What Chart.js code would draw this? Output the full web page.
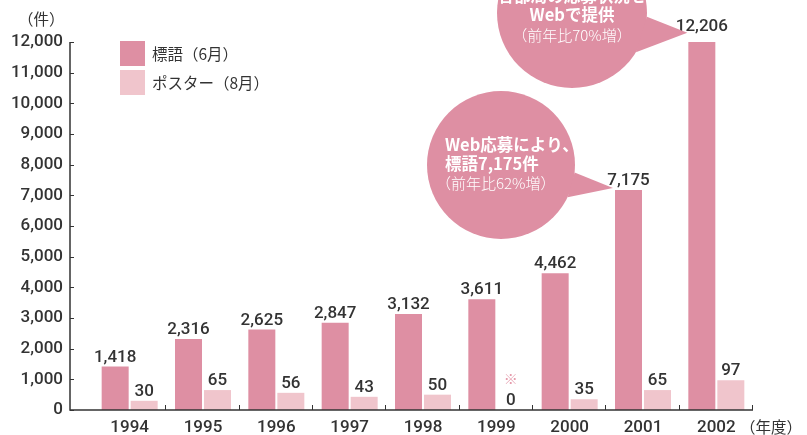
<!DOCTYPE html>
<html>
<head>
<meta charset="utf-8">
<script src="https://cdn.jsdelivr.net/npm/chart.js@4"></script>
<style>
  html, body { margin: 0; padding: 0; background: #fff; }
  #wrap { width: 807px; height: 435px; }
</style>
</head>
<body>
<div id="wrap"><canvas id="entries-chart" width="807" height="435"></canvas></div>
<script>
// Fiscal years
const years = ["1994", "1995", "1996", "1997", "1998", "1999", "2000", "2001", "2002"];

// Slogan entries (June)
const sloganValues = [1418, 2316, 2625, 2847, 3132, 3611, 4462, 7175, 12206];

// Poster entries (August) - drawn on their own 0..1200 scale
const posterValues = [30, 65, 56, 43, 50, 0, 35, 65, 97];
const posterNotes = ["", "", "", "", "", "※", "", "", ""];

// Y tick labels
const yTicks = [0, 1000, 2000, 3000, 4000, 5000, 6000, 7000, 8000, 9000, 10000, 11000, 12000];

const seriesLabels = ["標語（6月）", "ポスター（8月）"];
const DARK = "#de8fa3";
const LIGHT = "#f0c5cc";
const INK = "#333333";
const NUM_FONT = "500 17px Roboto";
const JP = "'Noto Sans CJK JP'";

// Axis lines, ticks, labels, legend and callouts
const decorPlugin = {
  id: "decor",
  afterDraw(chart) {
    const ctx = chart.ctx;
    const area = chart.chartArea;
    const y = chart.scales.y;
    const axisX = area.left - 23;
    const base = y.getPixelForValue(0);

    ctx.save();
    ctx.strokeStyle = INK;
    ctx.lineWidth = 1.5;
    ctx.beginPath();
    ctx.moveTo(axisX, y.getPixelForValue(12000));
    ctx.lineTo(axisX, base);
    ctx.lineTo(area.right, base);
    ctx.stroke();

    // y ticks
    ctx.lineWidth = 1;
    yTicks.forEach(function (v) {
      const py = Math.round(y.getPixelForValue(v)) + 0.5;
      ctx.beginPath();
      ctx.moveTo(axisX, py);
      ctx.lineTo(axisX + 4, py);
      ctx.stroke();
    });
    // x ticks at category boundaries (upward)
    const step = (area.right - area.left) / years.length;
    for (let i = 1; i <= years.length; i++) {
      const px = Math.round(area.left + step * i) - 0.5;
      ctx.beginPath();
      ctx.moveTo(px, base);
      ctx.lineTo(px, base - 5);
      ctx.stroke();
    }

    // unit labels
    ctx.fillStyle = INK;
    ctx.font = "15.5px " + JP;
    ctx.textBaseline = "middle";
    ctx.textAlign = "left";
    ctx.fillText("（件）", 18, 19);
    ctx.fillText("（年度）", area.right - 13, 427);

    // legend
    [DARK, LIGHT].forEach(function (c, i) {
      const ly = 41 + i * 29;
      ctx.fillStyle = c;
      ctx.fillRect(120, ly, 25, 25);
      ctx.fillStyle = INK;
      ctx.font = "15.5px " + JP;
      ctx.fillText(seriesLabels[i], 152, ly + 13);
    });

    // value labels
    ctx.textAlign = "center";
    ctx.textBaseline = "alphabetic";
    chart.data.datasets.forEach(function (ds, di) {
      const meta = chart.getDatasetMeta(di);
      meta.data.forEach(function (bar, i) {
        const v = di === 0 ? sloganValues[i] : posterValues[i];
        ctx.fillStyle = INK;
        ctx.font = NUM_FONT;
        ctx.fillText(v.toLocaleString("en-US"), bar.x, bar.y - 5);
        if (di === 1 && posterNotes[i]) {
          ctx.fillStyle = "#e59aab";
          ctx.font = "14px " + JP;
          ctx.fillText(posterNotes[i], bar.x, bar.y - 26);
        }
      });
    });

    // callouts
    const bars = chart.getDatasetMeta(0).data;
    function bubble(cx, cy, r, a1, a2, tx, ty) {
      ctx.fillStyle = DARK;
      ctx.beginPath();
      ctx.arc(cx, cy, r, 0, Math.PI * 2);
      ctx.fill();
      ctx.beginPath();
      ctx.moveTo(cx + r * Math.cos(a1), cy + r * Math.sin(a1));
      ctx.lineTo(tx, ty);
      ctx.lineTo(cx + r * Math.cos(a2), cy + r * Math.sin(a2));
      ctx.closePath();
      ctx.fill();
    }
    const b8 = bars[8];
    const left8 = b8.x - b8.width / 2;
    bubble(572, 13, 75, 0.05, 0.55, left8 - 1, b8.y - 3);
    const b7 = bars[7];
    const left7 = b7.x - b7.width / 2;
    bubble(501, 165, 74, 0.1, 0.45, left7 - 2, b7.y - 2);

    ctx.fillStyle = "#ffffff";
    ctx.textAlign = "center";
    ctx.textBaseline = "middle";
    ctx.font = "bold 16.5px " + JP;
    ctx.fillText("各部局の応募状況を", 572, -4);
    ctx.fillText("Webで提供", 572, 15);
    ctx.font = "300 15px " + JP;
    ctx.fillText("（前年比70%増）", 572, 35);

    ctx.textAlign = "left";
    ctx.font = "bold 16.5px " + JP;
    ctx.fillText("Web応募により、", 445, 145);
    ctx.fillText("標語7,175件", 445, 164);
    ctx.font = "300 15px " + JP;
    ctx.fillText("（前年比62%増）", 436, 183);
    ctx.restore();
  },
};

const dataEntries = {
  labels: years,
  datasets: [
    {
      label: seriesLabels[0],
      data: sloganValues,
      backgroundColor: DARK,
      yAxisID: "y",
    },
    {
      label: seriesLabels[1],
      data: posterValues,
      backgroundColor: LIGHT,
      yAxisID: "y2",
    },
  ],
};

const configEntries = {
  type: "bar",
  data: dataEntries,
  options: {
    responsive: false,
    animation: false,
    layout: { padding: { left: 0, right: 54, top: 42, bottom: 0 } },
    plugins: {
      legend: false,
      tooltip: { enabled: false },
    },
    datasets: {
      bar: { categoryPercentage: 0.791, barPercentage: 0.931 },
    },
    scales: {
      x: {
        grid: { display: false, drawTicks: false },
        border: { display: false },
        ticks: { color: INK, font: { family: "Roboto", size: 17, weight: 500 }, padding: 8 },
        afterFit(scale) { scale.height = 25; },
      },
      y: {
        min: 0,
        max: 12000,
        afterBuildTicks(scale) { scale.ticks = yTicks.map(function (v) { return { value: v }; }); },
        grid: { display: false, drawTicks: false },
        border: { display: false },
        ticks: {
          color: INK,
          padding: 30,
          font: { family: "Roboto", size: 17, weight: 500 },
          callback: function (v) { return v.toLocaleString("en-US"); },
        },
        afterFit(scale) {
          scale.width = 93;
          scale.paddingTop = 10;
          scale.paddingBottom = 10;
        },
      },
      y2: {
        min: 0,
        max: 1200,
        display: false,
      },
    },
  },
  plugins: [decorPlugin],
};

let entries_chart = new Chart(document.getElementById("entries-chart"), configEntries);
</script>
</body>
</html>
